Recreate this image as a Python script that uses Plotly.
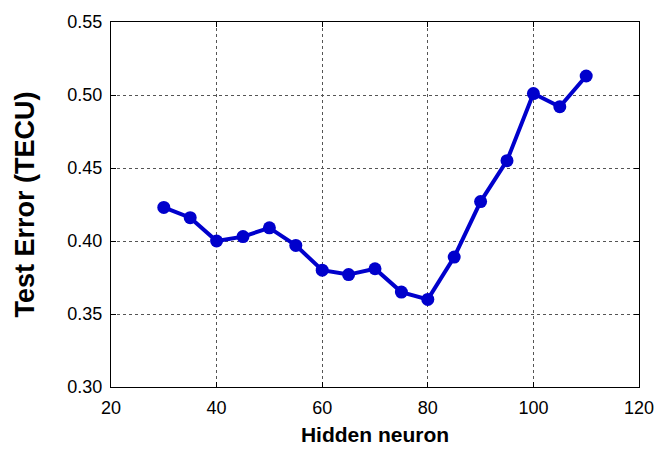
import plotly.graph_objects as go

hidden_neurons = [30, 35, 40, 45, 50, 55, 60, 65, 70, 75, 80, 85, 90, 95, 100, 105, 110]
test_error = [0.423, 0.416, 0.400, 0.403, 0.409, 0.397, 0.380, 0.377, 0.381, 0.365, 0.360,
              0.389, 0.427, 0.455, 0.501, 0.492, 0.513]

x_ticks = [20, 40, 60, 80, 100, 120]
y_ticks = [0.30, 0.35, 0.40, 0.45, 0.50, 0.55]

FONT = "Liberation Sans, Arial"

fig = go.Figure()
fig.add_trace(go.Scatter(
    x=hidden_neurons, y=test_error, mode="lines+markers",
    line=dict(color="#0000CC", width=4),
    marker=dict(color="#0000CC", size=13),
    showlegend=False,
))

axis_common = dict(
    showline=True, linecolor="black", linewidth=1, mirror="ticks",
    ticks="inside", ticklen=5, tickcolor="black",
    showgrid=True, gridcolor="#555555", gridwidth=1, griddash="3px,3px",
    zeroline=False, automargin=False,
    tickfont=dict(family=FONT, size=18, color="black"),
)

fig.update_xaxes(
    range=[20, 120], tickvals=x_ticks, ticklabelstandoff=4,
    title=dict(text="<b>Hidden neuron</b>", font=dict(family=FONT, size=21, color="black"), standoff=10),
    **axis_common,
)
fig.update_yaxes(
    range=[0.30, 0.55], tickvals=y_ticks, tickformat=".2f", ticklabelstandoff=4,
    title=dict(text="<b>Test Error (TECU)</b>", font=dict(family=FONT, size=27, color="black"), standoff=24),
    **axis_common,
)

fig.update_layout(
    width=656, height=451,
    margin=dict(l=111, r=17, t=22, b=64),
    paper_bgcolor="white", plot_bgcolor="white",
)

fig.write_html("out.html")
